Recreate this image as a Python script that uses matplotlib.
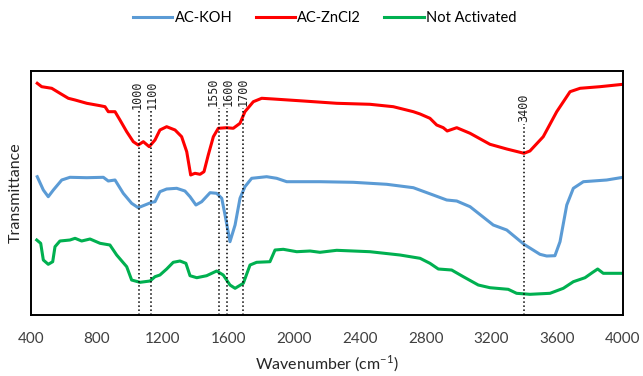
import numpy as np
import matplotlib.pyplot as plt

plt.rcParams['font.family'] = ['Lato', 'DejaVu Sans']
plt.rcParams['mathtext.fontset'] = 'custom'
plt.rcParams['mathtext.rm'] = 'Lato'

# AC-ZnCl2 (red)
wn_zn = [438, 465, 526, 576, 627, 668, 739, 820, 850, 870, 911, 941, 982, 1022, 1052, 1083,
         1119, 1154, 1184, 1225, 1276, 1316, 1347, 1371, 1397, 1428, 1452, 1478, 1509, 1539,
         1590, 1630, 1671, 1701, 1752, 1803, 1873, 2056, 2259, 2461, 2603, 2725, 2766, 2826,
         2867, 2907, 2931, 2989, 3070, 3191, 3293, 3398, 3434, 3515, 3597, 3678, 3739, 3860, 4000]
t_zn = [231.7, 228.3, 226.7, 221.7, 216.7, 215, 211.7, 209.3, 208.3, 203.3, 203.3, 195, 183.3,
        173.3, 170, 173.3, 168.3, 175, 185, 188.3, 185, 178.3, 163.3, 140, 141.7, 140.7, 143.3,
        160, 178.3, 186.7, 187.3, 186.7, 191.7, 203.3, 213.3, 216.7, 216, 214, 211.7, 210.7,
        208.3, 203.3, 201, 196.7, 190, 187.3, 184, 187.3, 181.7, 170.7, 166, 161.7, 164, 178.3,
        203.3, 223.3, 226.7, 228.3, 230.7]

# AC-KOH (blue)
wn_koh = [438, 475, 505, 536, 587, 637, 739, 840, 870, 911, 961, 1012, 1052, 1093, 1134, 1154,
          1184, 1225, 1286, 1336, 1367, 1403, 1438, 1489, 1529, 1560, 1580, 1610, 1641, 1671,
          1701, 1742, 1833, 1894, 1955, 2157, 2360, 2563, 2725, 2846, 2928, 2989, 3070, 3211,
          3293, 3398, 3495, 3536, 3586, 3617, 3658, 3698, 3759, 3901, 4000]
t_koh = [138.3, 125, 118.3, 125, 135, 137.7, 137.3, 137.7, 134, 135, 121.7, 111.7, 107.3, 110,
         112.7, 113.3, 123.3, 126, 126.7, 124, 118.3, 110, 113.3, 122.3, 121.7, 116.7, 100, 73.3,
         90, 116.7, 128.3, 136.7, 138.3, 136.7, 133.3, 133.3, 132.7, 130.7, 127.3, 120, 115, 114,
         108.3, 90, 85, 70.7, 60.7, 59, 59.3, 73.3, 110, 126.7, 133.3, 135, 137.7]

# Not Activated (green)
wn_na = [435, 459, 475, 505, 532, 546, 576, 637, 668, 708, 759, 820, 880, 921, 982, 1012, 1063,
         1124, 1154, 1184, 1225, 1265, 1306, 1342, 1367, 1408, 1468, 1529, 1569, 1610, 1641,
         1691, 1732, 1772, 1853, 1884, 1934, 2016, 2097, 2157, 2259, 2461, 2644, 2766, 2826,
         2877, 2958, 3029, 3120, 3191, 3302, 3353, 3434, 3556, 3637, 3698, 3769, 3816, 3846,
         3880, 4000]
t_na = [75, 71.7, 55, 50.7, 53.3, 68.3, 74, 75, 76.7, 74, 76, 71.7, 70, 60, 48.3, 35, 32.7, 34,
        38.3, 40, 46, 52.7, 54, 51.7, 39.3, 37.3, 39.3, 44, 40, 30, 26.7, 31.7, 50, 52.7, 53.3,
        65, 65.7, 63.3, 64, 62.7, 64.7, 63.3, 60, 56.7, 51.7, 46, 45, 38.3, 30, 27.3, 25.7, 21.7,
        20.7, 21.7, 26.7, 33.3, 37.3, 42.7, 46, 41.7, 41.7]

# marker lines: drawn position, label, where the label sits, top of line
mark_pos = [1055, 1128, 1543, 1594, 1687, 3398]
mark_lab = ['1000', '1100', '1550', '1600', '1700', '3400']
mark_txt = [1045, 1136, 1510, 1600, 1690, 3398]
mark_top = [204, 204, 207, 207, 207, 191]

xticks = [400, 800, 1200, 1600, 2000, 2400, 2800, 3200, 3600, 4000]

fig = plt.figure(figsize=(6.43, 3.76), dpi=100)
ax = fig.add_axes([0.0482, 0.1622, 0.9207, 0.649])

l1, = ax.plot(wn_koh, t_koh, color='#5B9BD5', lw=2.2, label='AC-KOH')
l2, = ax.plot(wn_zn, t_zn, color='#FF0000', lw=2.2, label='AC-ZnCl2')
l3, = ax.plot(wn_na, t_na, color='#00B050', lw=2.2, label='Not Activated')

for p, lab, tx, top in zip(mark_pos, mark_lab, mark_txt, mark_top):
    ax.plot([p, p], [0, top], color='black', ls=':', lw=1.1)
    ax.text(tx, top + 2, lab, rotation=90, ha='center', va='bottom',
            family='DejaVu Sans Mono', fontsize=8.5, color='#222222')

ax.set_xlim(400, 4000)
ax.set_ylim(0, 244)
ax.set_xticks(xticks)
ax.set_xticklabels([str(t) for t in xticks], fontsize=11, color='#404040')
ax.tick_params(axis='x', length=0, pad=12)
ax.set_yticks([])
for s in ax.spines.values():
    s.set_linewidth(1.4)
    s.set_color('black')

ax.set_xlabel('Wavenumber (cm$^{-1}$)', fontsize=11.5, color='#262626', labelpad=6)
ax.set_ylabel('Transmittance', fontsize=11.5, color='#262626', labelpad=6)

fig.legend(handles=[l1, l2, l3], loc='center', bbox_to_anchor=(0.505, 0.952), ncol=3,
           frameon=False, fontsize=10.5, handlelength=2.7, handletextpad=0.15,
           columnspacing=1.6)

fig.savefig('out.png', dpi=100)
